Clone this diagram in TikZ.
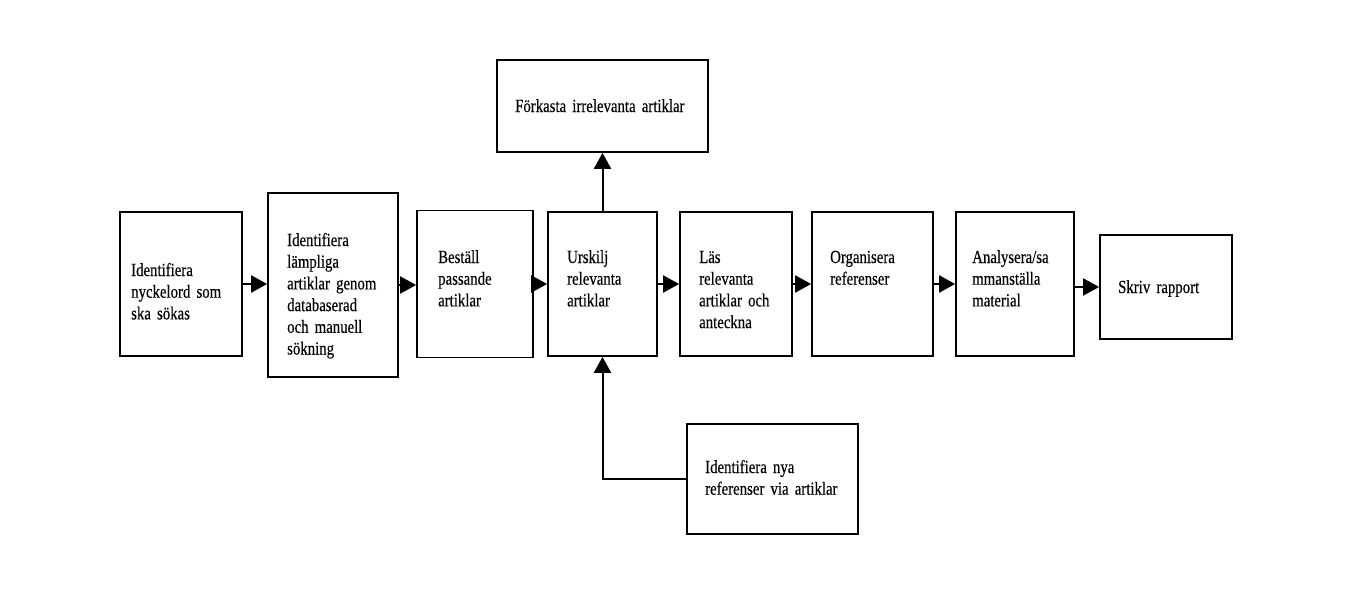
\documentclass[tikz,border=0pt]{standalone}
\usepackage{fontspec}
\setmainfont{Liberation Serif}[FakeStretch=0.8, WordSpace=0.75, FakeBold=0.3]
\usetikzlibrary{arrows.meta}
\tikzset{
  box/.style={draw=black, line width=1.7pt, rectangle, inner sep=0pt, fill=white},
  txt/.style={anchor=base west, inner sep=0pt, align=left, text width=150pt,
    font=\fontsize{18.5}{21.7}\selectfont},
  conn/.style={line width=2pt, -{Triangle[length=16pt,width=17pt]}}
}
\begin{document}
\begin{tikzpicture}[x=1pt,y=-1pt]
\useasboundingbox[fill=white] (0,0) rectangle (1351,594);
% boxes
\node[box, minimum width=122pt, minimum height=144pt] (b1) at (181,284) {};
\node[box, minimum width=130pt, minimum height=184pt] (b2) at (333,285) {};
\node[box, minimum width=116pt, minimum height=147pt] (b3) at (475,284) {};
\node[box, minimum width=109pt, minimum height=144pt] (b4) at (602.5,284) {};
\node[box, minimum width=112pt, minimum height=144pt] (b5) at (736,284) {};
\node[box, minimum width=121pt, minimum height=144pt] (b6) at (872.5,284) {};
\node[box, minimum width=118pt, minimum height=144pt] (b7) at (1015,284) {};
\node[box, minimum width=132pt, minimum height=104pt] (b8) at (1166,287) {};
\node[box, minimum width=211pt, minimum height=92pt] (top) at (602.5,106) {};
\node[box, minimum width=171pt, minimum height=110pt] (bot) at (772.5,479) {};
% texts
\node[txt] (t1) at (131,276) {Identifiera\\nyckelord som\\ska sökas};
\node[txt] (t2) at (287,246) {Identifiera\\lämpliga\\artiklar genom\\databaserad\\och manuell\\sökning};
\node[txt] (t3) at (438,263) {Beställ\\passande\\artiklar};
\node[txt] (t4) at (567,263) {Urskilj\\relevanta\\artiklar};
\node[txt] (t5) at (699,263) {Läs\\relevanta\\artiklar och\\anteckna};
\node[txt] (t6) at (830,263) {Organisera\\referenser};
\node[txt] (t7) at (972,263) {Analysera/sa\\mmanställa\\material};
\node[txt] (t8) at (1118,293) {Skriv rapport};
\node[txt, text width=200pt] (t9) at (515,112) {Förkasta irrelevanta artiklar};
\node[txt, text width=160pt] (t10) at (705,473) {Identifiera nya\\referenser via artiklar};
% connectors
\draw[conn] (b1.east) -- (b2.west |- b1.east);
\draw[conn] (b2.east) -- (b3.west |- b2.east);
\draw[conn] (b3.east) -- (b4.west |- b3.east);
\draw[conn] (b4.east) -- (b5.west);
\draw[conn] (b5.east) -- (b6.west);
\draw[conn] (b6.east) -- (b7.west);
\draw[conn] (b7.east |- b8.west) -- (b8.west);
\draw[conn] (b4.north) -- (top.south);
\draw[conn] (bot.west) -| (b4.south);
\end{tikzpicture}
\end{document}
